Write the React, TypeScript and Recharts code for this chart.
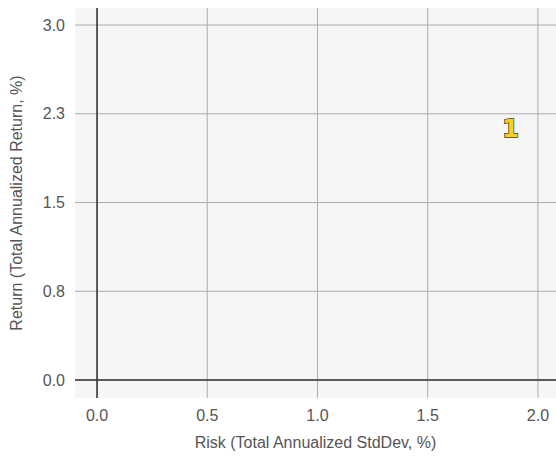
import React from 'react';
import {
  ScatterChart,
  Scatter,
  XAxis,
  YAxis,
  CartesianGrid,
  ReferenceLine,
} from 'recharts';

const xTicks = [0, 0.5, 1, 1.5, 2];
const yTicks = [0, 0.75, 1.5, 2.25, 3];
const pointLabels = ['1'];
const riskValues = [1.876];
const returnValues = [2.12];

const points = pointLabels.map((label, i) => ({
  label,
  risk: riskValues[i],
  ret: returnValues[i],
}));

const font = 'Liberation Sans, Arial, sans-serif';
const tickStyle = { fill: '#555', fontSize: 16, fontFamily: font };

function LabelShape(props: any) {
  const { cx, cy, payload } = props;
  return (
    <text
      x={cx}
      y={cy}
      textAnchor="middle"
      dominantBaseline="central"
      fontFamily="DejaVu Sans, sans-serif"
      fontWeight="bold"
      fontSize={24}
      fill="#f6d21f"
      stroke="#3a3a3a"
      strokeWidth={1.5}
      paintOrder="stroke"
    >
      {payload.label}
    </text>
  );
}

export default function App() {
  return (
    <div style={{ position: 'absolute', left: 0, top: 0, background: '#fff' }}>
      <ScatterChart
        width={556}
        height={456}
        margin={{ top: 8, right: 0, bottom: 0, left: 0 }}
      >
        {/* background only; grid lines are drawn at the ticks below */}
        <CartesianGrid fill="#f6f6f6" stroke="none" horizontal={false} vertical={false} />
        <XAxis
          type="number"
          dataKey="risk"
          domain={[-0.1, 2.082]}
          allowDataOverflow
          ticks={xTicks}
          tickFormatter={(v: number) => v.toFixed(1)}
          axisLine={false}
          tickLine={false}
          height={58}
          tick={tickStyle}
          tickMargin={6}
          label={{
            value: 'Risk (Total Annualized StdDev, %)',
            position: 'insideBottom',
            offset: 8,
            fill: '#555',
            fontSize: 16,
            fontFamily: font,
          }}
        />
        <YAxis
          type="number"
          dataKey="ret"
          domain={[-0.152, 3.144]}
          allowDataOverflow
          ticks={yTicks}
          tickFormatter={(v: number) => v.toFixed(1)}
          axisLine={false}
          tickLine={false}
          width={75}
          tick={tickStyle}
          tickMargin={4}
          label={{
            value: 'Return (Total Annualized Return, %)',
            angle: -90,
            position: 'insideLeft',
            offset: 16,
            style: { textAnchor: 'middle' },
            fill: '#555',
            fontSize: 16,
            fontFamily: font,
          }}
        />
        {xTicks.map((t) => (
          <ReferenceLine key={`gx${t}`} x={t} stroke="#adadad" strokeWidth={1} />
        ))}
        {yTicks.map((t) => (
          <ReferenceLine key={`gy${t}`} y={t} stroke="#adadad" strokeWidth={1} />
        ))}
        <ReferenceLine x={0} stroke="#333" strokeWidth={1.5} />
        <ReferenceLine y={0} stroke="#333" strokeWidth={1.5} />
        <Scatter data={points} shape={<LabelShape />} isAnimationActive={false} />
      </ScatterChart>
    </div>
  );
}
